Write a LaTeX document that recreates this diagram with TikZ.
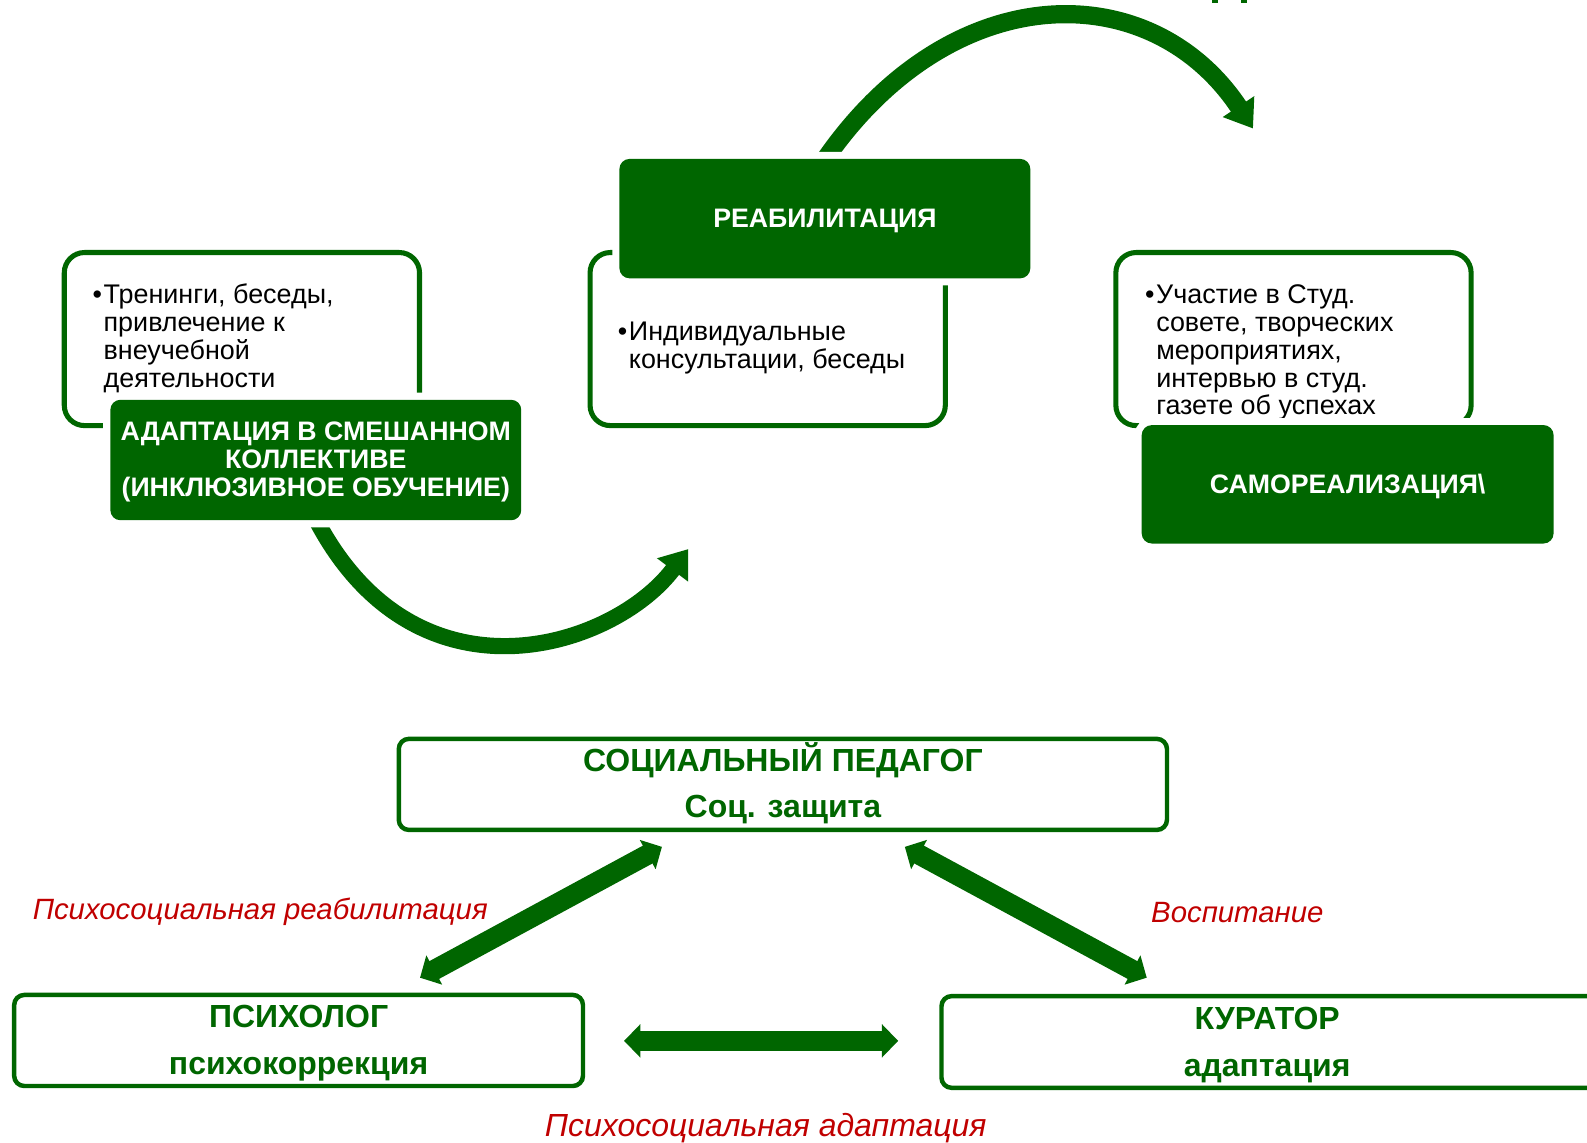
\documentclass[tikz,border=0pt]{standalone}
\usepackage{fontspec}
\setmainfont{Liberation Sans}
\usetikzlibrary{arrows.meta}
\definecolor{dg}{RGB}{0,102,0}
\definecolor{lred}{RGB}{192,0,0}
\begin{document}
\begin{tikzpicture}[x=0.5pt,y=-0.5pt,
  wbox/.style={draw=dg, line width=2.5pt, rounded corners=10pt, fill=white, inner sep=0pt},
  gbox/.style={fill=dg, rounded corners=5pt, inner sep=0pt, preaction={draw=white, line width=7pt}},
  gtext/.style={text=white, font=\bfseries\fontsize{13.2}{13.75}\selectfont, align=center, inner sep=0pt},
  btext/.style={font=\fontsize{13.3}{13.75}\selectfont, align=left, inner sep=0pt, anchor=north west},
  pbox/.style={draw=dg, line width=2.2pt, rounded corners=5pt, inner sep=0pt},
  ptext/.style={text=dg, font=\bfseries\fontsize{15.8}{23}\selectfont, align=center, inner sep=0pt},
  lab/.style={text=lred, font=\itshape\fontsize{14.5}{14.5}\selectfont, inner sep=0pt, anchor=west},
  dbl/.style={draw=dg, line width=10pt, {Triangle[width=16pt,length=8pt]}-{Triangle[width=16pt,length=8pt]}},
  curv/.style={draw=dg, line width=9pt}
]
\useasboundingbox (0,0) rectangle (1568,1129);
% cut-off title fragment
\fill[dg] (1197,0) rectangle (1203,2.7);
\fill[dg] (1226,0) rectangle (1232,2.7);

% top curved arrow
\coordinate (ta0) at (812,162);
\coordinate (ta1) at (1238,127);
\begin{scope}
\clip (0,-60) rectangle (1568,151);
\draw[curv, -{Triangle[width=17.8pt,length=13pt]}] (ta0) .. controls (937.3,-23.8) and (1136.7,-25.9) .. (ta1);
\end{scope}

% bottom curved arrow
\coordinate (ba0) at (309.2,507.4);
\coordinate (ba1) at (680,542.5);
\begin{scope}
\clip (0,519) rectangle (1568,760);
\draw[curv, line width=8pt, -{Triangle[width=18.4pt,length=12.9pt]}] (ba0) .. controls (408,705.1) and (606.3,640.8) .. (ba1);
\end{scope}

% white boxes
\node[wbox, minimum width=175.5pt, minimum height=85.5pt] (w1) at (239,335) {};
\node[wbox, minimum width=175.5pt, minimum height=85.5pt] (w2) at (758.5,335) {};
\node[wbox, minimum width=175.5pt, minimum height=85.5pt] (w3) at (1278,335) {};

\node[btext] (t1) at (91,280) {\makebox[5.5pt][l]{•}Тренинги, беседы,\\\hspace*{5.5pt}привлечение к\\\hspace*{5.5pt}внеучебной\\\hspace*{5.5pt}деятельности};
\node[btext] (t2) at (610,318) {\makebox[5.5pt][l]{•}Индивидуальные\\\hspace*{5.5pt}консультации, беседы};
\node[btext] (t3) at (1131,281) {\makebox[5.5pt][l]{•}Участие в Студ.\\\hspace*{5.5pt}совете, творческих\\\hspace*{5.5pt}мероприятиях,\\\hspace*{5.5pt}интервью в студ.\\\hspace*{5.5pt}газете об успехах};

% green boxes
\node[gbox, minimum width=203pt, minimum height=59.5pt] (g1) at (312,454.5) {};
\node[gtext] (g1t) at (312,456.5) {АДАПТАЦИЯ В СМЕШАННОМ\\КОЛЛЕКТИВЕ\\(ИНКЛЮЗИВНОЕ ОБУЧЕНИЕ)};
\node[gbox, minimum width=203pt, minimum height=59pt] (g2) at (815,216) {};
\node[gtext] (g2t) at (815,218) {РЕАБИЛИТАЦИЯ};
\node[gbox, minimum width=203.5pt, minimum height=58.5pt] (g3) at (1331.5,478.5) {};
\node[gtext] (g3t) at (1331.5,480.5) {САМОРЕАЛИЗАЦИЯ\textbackslash};

% bottom boxes
\node[pbox, minimum width=379.5pt, minimum height=45pt] (soc) at (773.5,775) {};
\node[ptext] (soct) at (773.5,774) {СОЦИАЛЬНЫЙ ПЕДАГОГ\\Соц. защита};
\node[pbox, minimum width=281pt, minimum height=45pt] (psy) at (295,1028) {};
\node[ptext] (psyt) at (295,1030.5) {ПСИХОЛОГ\\психокоррекция};
\node[pbox, minimum width=338.8pt, minimum height=45.3pt] (kur) at (1269,1029.5) {};
\node[ptext] (kurt) at (1252,1032.5) {КУРАТОР\\адаптация};

% labels
\node[lab] (l1) at (32,901) {Психосоциальная реабилитация};
\node[lab] (l2) at (1137,902) {Воспитание};
\node[lab, font=\itshape\fontsize{15.8}{15.8}\selectfont] (l3) at (538,1115) {Психосоциальная адаптация};

% double arrows
\coordinate (a1s) at (654,836.7);
\coordinate (a1e) at (415,966);
\coordinate (a2s) at (894,836.7);
\coordinate (a2e) at (1133,966);
\coordinate (a3s) at (616.6,1028.4);
\coordinate (a3e) at (887.4,1028.4);
\draw[dbl] (a1s) -- (a1e);
\draw[dbl] (a2s) -- (a2e);
\draw[dbl] (a3s) -- (a3e);
\end{tikzpicture}
\end{document}
